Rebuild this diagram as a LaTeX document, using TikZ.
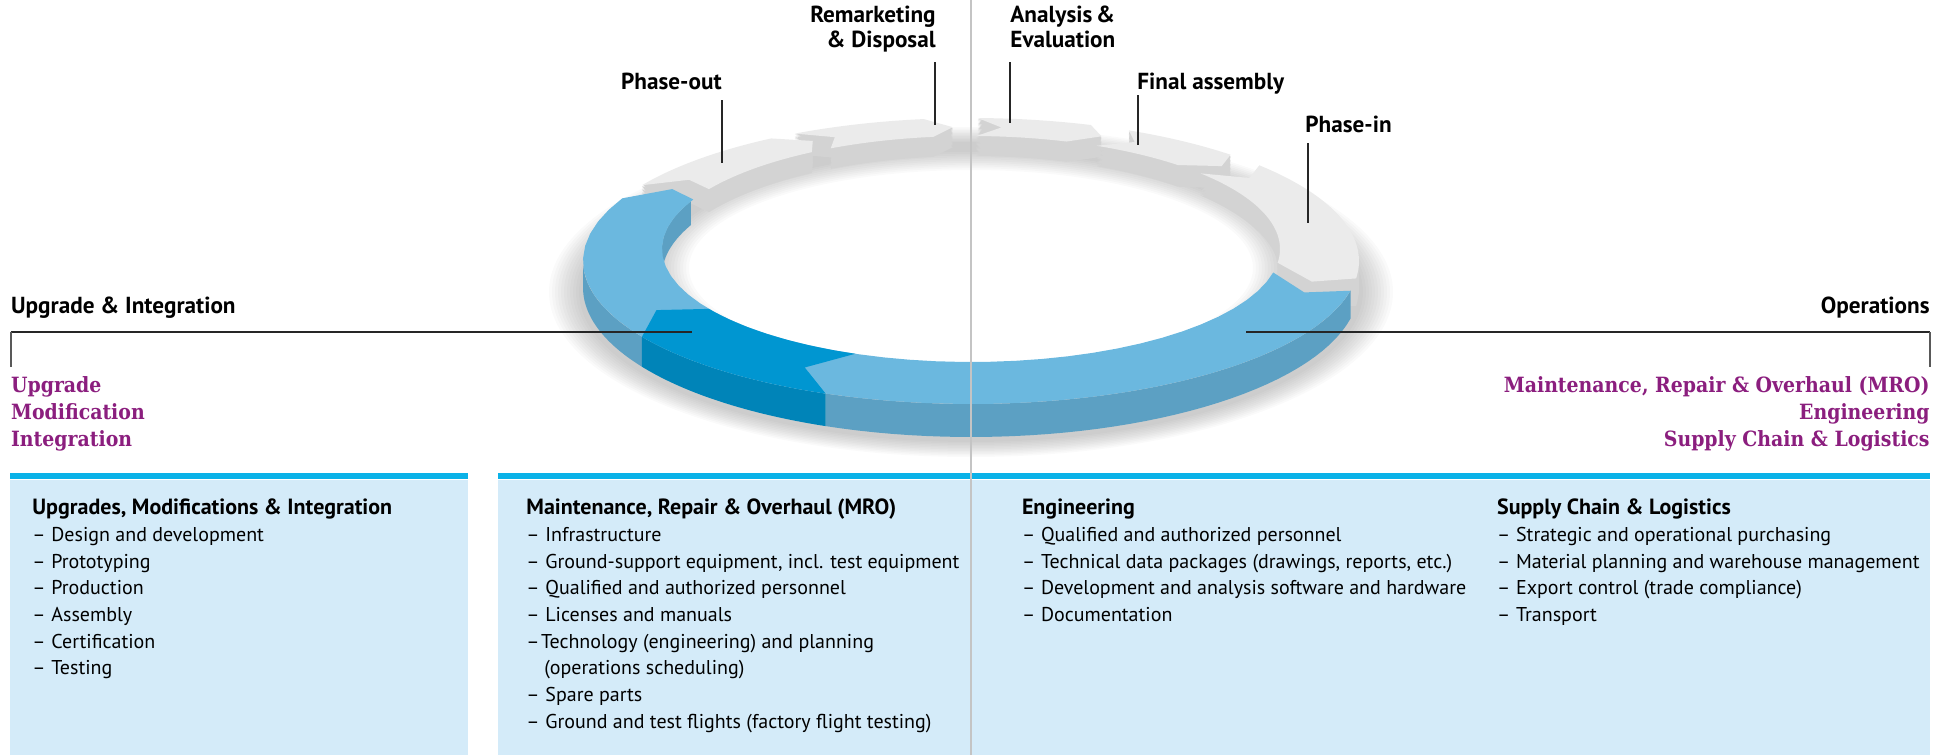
\documentclass[tikz,border=0pt]{standalone}
\usepackage{fontspec}
\setmainfont{PT Sans}
\newfontfamily\slabfont[FakeStretch=0.9]{DejaVu Serif}
\definecolor{lblue}{HTML}{6BB8DF}
\definecolor{lblueside}{HTML}{5CA0C3}
\definecolor{dblue}{HTML}{0096D1}
\definecolor{dblueside}{HTML}{0084B8}
\definecolor{gtop}{HTML}{EBEBEB}
\definecolor{gside}{HTML}{D3D3D3}
\definecolor{barblue}{HTML}{0AB2E8}
\definecolor{boxblue}{HTML}{D4EBF9}
\definecolor{purp}{HTML}{8B1E7E}
\definecolor{vline}{HTML}{C4C4C4}
\newcommand\dashitem[1]{\makebox[9.5pt][l]{–}#1}
% top face of a ring segment: #1 start angle, #2 end angle, #3 chevron offset, #4 style
\newcommand\ringtop[4]{%
  \fill[#4] plot[domain=#1:#2,samples=40] ({971+388*cos(\x)},{261+143*sin(\x)})
   -- ({971+348.5*cos(#2+#3)},{255+128*sin(#2+#3)})
   -- plot[domain=#2:#1,samples=40] ({971+309*cos(\x)},{249+113*sin(\x)})
   -- ({971+348.5*cos(#1+#3)},{255+128*sin(#1+#3)}) -- cycle;}
% extruded body of a detached segment
\newcommand\ringsweep[4]{%
  \foreach \k in {0.0625,0.125,...,1.01}{%
  \fill[#4] plot[domain=#1:#2,samples=30] ({971+388*cos(\x)},{261+143*sin(\x)+\k*(26.5+6.5*sin(\x))})
   -- ({971+348.5*cos(#2+#3)},{255+128*sin(#2+#3)+\k*(26.5+6.5*sin(#2+#3))})
   -- plot[domain=#2:#1,samples=30] ({971+309*cos(\x)},{249+113*sin(\x)+\k*(26.5+6.5*sin(\x))})
   -- ({971+348.5*cos(#1+#3)},{255+128*sin(#1+#3)+\k*(26.5+6.5*sin(#1+#3))}) -- cycle;}}
\newcommand\outerwall[3]{%
  \fill[#3] plot[domain=#1:#2,samples=40] ({971+388*cos(\x)},{261+143*sin(\x)})
   -- plot[domain=#2:#1,samples=40] ({971+388*cos(\x)},{287.5+149.5*sin(\x)}) -- cycle;}
\newcommand\innerwall[3]{%
  \fill[#3] plot[domain=#1:#2,samples=40] ({971+309*cos(\x)},{249+113*sin(\x)})
   -- plot[domain=#2:#1,samples=40] ({971+309*cos(\x)},{275.5+119.5*sin(\x)}) -- cycle;}
\tikzset{
  lead/.style={draw=black!85, line width=0.65pt},
  endtick/.style={draw=black!65, line width=1pt},
  toplbl/.style={inner sep=0pt, font=\bfseries\fontsize{11.6}{13}\selectfont},
  purptxt/.style={inner sep=0pt, text=purp, font=\slabfont\bfseries\fontsize{10.5}{13}\selectfont},
  hdr/.style={inner sep=0pt, anchor=base west, font=\bfseries\fontsize{11}{13}\selectfont},
  itm/.style={inner sep=0pt, anchor=base west, font=\fontsize{10}{13}\selectfont},
}
\begin{document}
\begin{tikzpicture}[x=0.5pt,y=-0.5pt]
\useasboundingbox (0,0) rectangle (1944,755);

% ---------- boxes ----------
\fill[boxblue] (10,480) rectangle (468,755);
\fill[barblue] (10,473) rectangle (468,479);
\fill[boxblue] (498,480) rectangle (1930,755);
\fill[barblue] (498,473) rectangle (1930,479);

% ---------- soft shadow of the ring ----------
\foreach \r in {0,3,...,30}{
  \fill[black, opacity=0.018, even odd rule]
    (971,292) ellipse [x radius={392+\r}, y radius={150+0.5*\r}]
    (971,268) ellipse [x radius={312-\r}, y radius={116-0.6*\r}];
}

% ---------- ring: detached grey segments ----------
\ringsweep{271}{288}{4}{gside}
\ringsweep{294}{312}{4}{gside}
\ringsweep{318}{367}{5}{gside}
\ringsweep{212}{239}{4}{gside}
\ringsweep{243}{263}{4}{gside}
\ringtop{271}{288}{4}{gtop}
\ringtop{294}{312}{4}{gtop}
\ringtop{318}{367}{5}{gtop}
\ringtop{212}{239}{4}{gtop}
\ringtop{243}{263}{4}{gtop}

% ---------- ring: blue part ----------
\innerwall{180}{205}{lblueside}
\outerwall{12}{112}{lblueside}
\outerwall{148}{180}{lblueside}
\outerwall{112}{148}{dblueside}
\ringtop{12}{206}{5}{lblue}
\ringtop{112}{148}{6.5}{dblue}

% ---------- top labels ----------
\node[toplbl, anchor=base east] (remA) at (936,22.7) {Remarketing};
\node[toplbl, anchor=base east] (remB) at (936,47.7) {\& Disposal};
\node[toplbl, anchor=base west] (anaA) at (1010,22.7) {Analysis\,\&};
\node[toplbl, anchor=base west] (anaB) at (1010,47.7) {Evaluation};
\node[toplbl, anchor=base west] (fin) at (1137,89) {Final assembly};
\node[toplbl, anchor=base west] (phin) at (1305,132) {Phase-in};
\node[toplbl, anchor=base east] (phout) at (722,89) {Phase-out};

\coordinate (remT) at (935,62);   \coordinate (remR) at (935,125);
\coordinate (anaT) at (1010,62);  \coordinate (anaR) at (1010,123);
\coordinate (finT) at (1138,95);  \coordinate (finR) at (1138,145);
\coordinate (phinT) at (1308,143); \coordinate (phinR) at (1308,223);
\coordinate (phoutT) at (722,100); \coordinate (phoutR) at (722,163);
\draw[lead] (remT) -- (remR);
\draw[lead] (anaT) -- (anaR);
\draw[lead] (finT) -- (finR);
\draw[lead] (phinT) -- (phinR);
\draw[lead] (phoutT) -- (phoutR);

% ---------- side headings ----------
\node[toplbl, anchor=base west] (upg) at (10.7,313) {Upgrade \& Integration};
\node[toplbl, anchor=base east] (ops) at (1930,313) {Operations};
\coordinate (upgL) at (10.7,332); \coordinate (upgR) at (692,332); \coordinate (upgD) at (10.7,367);
\coordinate (opsR) at (1930,332); \coordinate (opsL) at (1246,332); \coordinate (opsD) at (1930,367);
\draw[lead] (upgL) -- (upgR);
\draw[endtick] (upgL) -- (upgD);
\draw[lead] (opsL) -- (opsR);
\draw[endtick] (opsR) -- (opsD);

\node[purptxt, anchor=base west] (pu1) at (10.7,392.7) {Upgrade};
\node[purptxt, anchor=base west] (pu2) at (10.7,419.3) {Modification};
\node[purptxt, anchor=base west] (pu3) at (10.7,446) {Integration};
\node[purptxt, anchor=base east] (po1) at (1930,392.7) {Maintenance, Repair \& Overhaul (MRO)};
\node[purptxt, anchor=base east] (po2) at (1930,419.3) {Engineering};
\node[purptxt, anchor=base east] (po3) at (1930,446) {Supply Chain \& Logistics};

% ---------- box texts ----------
\node[hdr] (h1) at (32,514) {Upgrades, Modifications \& Integration};
\foreach \t [count=\i from 0] in {{Design and development},Prototyping,Production,Assembly,Certification,Testing}
  \node[itm, name=a\i] at (32,{541.5+26.67*\i}) {\dashitem{\t}};

\node[hdr] (h2) at (526,514) {Maintenance, Repair \& Overhaul (MRO)};
\foreach \t [count=\i from 0] in {Infrastructure,{Ground-support equipment, incl. test equipment},{Qualified and authorized personnel},{Licenses and manuals}}
  \node[itm, name=b\i] at (526,{541.5+26.67*\i}) {\dashitem{\t}};
\node[itm] (b4) at (526,648.2) {\makebox[7.3pt][l]{–}Technology (engineering) and planning};
\node[itm] (b5) at (544,674.9) {(operations scheduling)};
\node[itm] (b6) at (526,701.5) {\dashitem{Spare parts}};
\node[itm] (b7) at (526,728.2) {\dashitem{Ground and test flights (factory flight testing)}};

\node[hdr] (h3) at (1021.6,514) {Engineering};
\foreach \t [count=\i from 0] in {{Qualified and authorized personnel},{Technical data packages (drawings, reports, etc.)},{Development and analysis software and hardware},Documentation}
  \node[itm, name=c\i] at (1021.6,{541.5+26.67*\i}) {\dashitem{\t}};

\node[hdr] (h4) at (1496.7,514) {Supply Chain \& Logistics};
\foreach \t [count=\i from 0] in {{Strategic and operational purchasing},{Material planning and warehouse management},{Export control (trade compliance)},Transport}
  \node[itm, name=d\i] at (1496.7,{541.5+26.67*\i}) {\dashitem{\t}};

% ---------- central divider ----------
\coordinate (divT) at (971,0); \coordinate (divB) at (971,755);
\draw[vline, line width=1.35pt] (divT) -- (divB);
\end{tikzpicture}
\end{document}
